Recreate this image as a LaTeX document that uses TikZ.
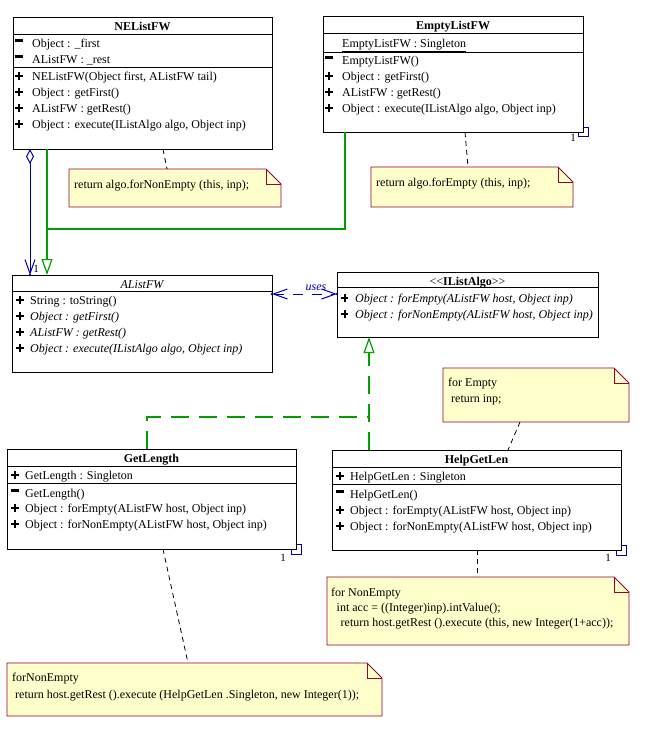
\documentclass[tikz,border=0pt]{standalone}
\usepackage{fontspec}
\setmainfont{Liberation Serif}
\usetikzlibrary{arrows.meta,calc}
\definecolor{umlblue}{RGB}{0,0,170}
\definecolor{umlgreen}{RGB}{0,160,0}
\definecolor{notered}{RGB}{153,0,51}
\definecolor{noteyellow}{RGB}{255,255,204}
\newcommand\rowfont{\fontsize{12}{14}\selectfont}
\newcommand\pmplus[2]{\draw[pm] (#1-3.8,#2-4) -- (#1+3.8,#2-4) (#1,#2-7.8) -- (#1,#2-0.2);}
\newcommand\pmminus[2]{\draw[pm, line width=2.6pt] (#1-3.8,#2-6.5) -- (#1+3.8,#2-6.5);}
\newcommand\notebox[5]{%
  \node[draw=none, inner sep=0pt, outer sep=0pt, anchor=north west, minimum width=#4pt, minimum height=#5pt] (#1) at (#2,#3) {};
  \draw[notepath] (#1.north west) -- ($(#1.north east)+(-15,0)$) -- ($(#1.north east)+(0,15)$) -- (#1.south east) -- (#1.south west) -- cycle;
  \draw[notered, line width=0.9pt] ($(#1.north east)+(-15,0)$) -- ($(#1.north east)+(-15,15)$) -- ($(#1.north east)+(0,15)$);}
\tikzset{vbarb/.tip={Straight Barb[length=14pt, width=10pt]}}
\begin{document}
\begin{tikzpicture}[x=1pt,y=-1pt,
  cls/.style={draw=black, line width=0.9pt, fill=white, inner sep=0pt, outer sep=0pt, anchor=north west},
  row/.style={anchor=base west, inner sep=0pt, font=\rowfont},
  ttl/.style={anchor=base, inner sep=0pt, font=\rowfont\bfseries},
  div/.style={line width=0.9pt},
  pm/.style={line width=2pt},
  notepath/.style={draw=notered, fill=noteyellow, line width=0.9pt},
  anchorline/.style={dash pattern=on 5pt off 4pt, line width=0.8pt},
  gen/.style={draw=umlgreen, line width=1.2pt},
  real/.style={draw=umlgreen, line width=1.2pt, dash pattern=on 18pt off 10pt},
  assoc/.style={draw=umlblue, line width=1pt},
  usesline/.style={draw=umlblue, line width=1pt, dash pattern=on 10pt off 9pt},
  mult/.style={inner sep=0pt, anchor=base, font=\fontsize{11}{12}\selectfont},
  tri/.style={-{Triangle[open, length=16pt, width=11pt, fill=white]}}
]
\useasboundingbox (0,0) rectangle (653,732);

% self-association squares (behind the boxes)
\draw[assoc] (578,127) rectangle (588,136);
\draw[assoc] (291,544) rectangle (301,554);
\draw[assoc] (616,545) rectangle (626,555);

% ---------- NEListFW ----------
\node[cls, minimum width=259pt, minimum height=132pt] (ne) at (13,17) {};
\draw[div] (13,34) -- (272,34);
\draw[div] (13,67) -- (272,67);
\node[ttl] (ne-t) at (142.5,30) {NEListFW};
\pmminus{19}{47}\node[row] (ne-a1) at (32,47) {Object : \_first};
\pmminus{19}{63}\node[row] (ne-a2) at (32,63) {AListFW : \_rest};
\pmplus{19}{80}\node[row] (ne-o1) at (32,80) {NEListFW(Object first, AListFW tail)};
\pmplus{19}{96}\node[row] (ne-o2) at (32,96) {Object : getFirst()};
\pmplus{19}{112}\node[row] (ne-o3) at (32,112) {AListFW : getRest()};
\pmplus{19}{128}\node[row] (ne-o4) at (32,128) {Object : execute(IListAlgo algo, Object inp)};

% ---------- EmptyListFW ----------
\node[cls, minimum width=260pt, minimum height=116pt] (el) at (323,16) {};
\draw[div] (323,33) -- (583,33);
\draw[div] (323,52) -- (583,52);
\node[ttl] (el-t) at (453,29) {EmptyListFW};
\node[row] (el-a1) at (342,47) {\underline{EmptyListFW : Singleton}};
\pmminus{329}{64}\node[row] (el-o1) at (342,64) {EmptyListFW()};
\pmplus{329}{80}\node[row] (el-o2) at (342,80) {Object : getFirst()};
\pmplus{329}{96}\node[row] (el-o3) at (342,96) {AListFW : getRest()};
\pmplus{329}{112}\node[row] (el-o4) at (342,112) {Object : execute(IListAlgo algo, Object inp)};

% ---------- AListFW ----------
\node[cls, minimum width=260pt, minimum height=97pt] (al) at (12,275) {};
\draw[div] (12,291) -- (272,291);
\node[anchor=base, inner sep=0pt, font=\rowfont\itshape] (al-t) at (142,288) {AListFW};
\pmplus{20}{304}\node[row] (al-o1) at (30,304) {String : toString()};
\pmplus{20}{320}\node[row] (al-o2) at (30,320) {\itshape Object : getFirst()};
\pmplus{20}{336}\node[row] (al-o3) at (30,336) {\itshape AListFW : getRest()};
\pmplus{20}{352}\node[row] (al-o4) at (30,352) {\itshape Object : execute(IListAlgo algo, Object inp)};

% ---------- IListAlgo ----------
\node[cls, minimum width=261pt, minimum height=65pt] (ia) at (337,272) {};
\draw[div] (337,287) -- (598,287);
\node[anchor=base, inner sep=0pt, font=\rowfont] (ia-t) at (467.5,285) {<{}<\textbf{IListAlgo}>{}>};
\pmplus{344.5}{302}\node[row] (ia-o1) at (355,302) {\itshape Object : forEmpty(AListFW host, Object inp)};
\pmplus{344.5}{318}\node[row] (ia-o2) at (355,318) {\itshape Object : forNonEmpty(AListFW host, Object inp)};

% ---------- GetLength ----------
\node[cls, minimum width=289pt, minimum height=100pt] (gl) at (7,449) {};
\draw[div] (7,466) -- (296,466);
\draw[div] (7,483) -- (296,483);
\node[ttl] (gl-t) at (151.5,462) {GetLength};
\pmplus{15}{479}\node[row] (gl-a1) at (25,479) {\underline{GetLength : Singleton}};
\pmminus{15}{497}\node[row] (gl-o1) at (25,497) {GetLength()};
\pmplus{15}{512}\node[row] (gl-o2) at (25,512) {Object : forEmpty(AListFW host, Object inp)};
\pmplus{15}{528}\node[row] (gl-o3) at (25,528) {Object : forNonEmpty(AListFW host, Object inp)};

% ---------- HelpGetLen ----------
\node[cls, minimum width=289pt, minimum height=100pt] (hg) at (332,450) {};
\draw[div] (332,467) -- (621,467);
\draw[div] (332,484) -- (621,484);
\node[ttl] (hg-t) at (476.5,463) {HelpGetLen};
\pmplus{340}{480}\node[row] (hg-a1) at (350,480) {\underline{HelpGetLen : Singleton}};
\pmminus{340}{498}\node[row] (hg-o1) at (350,498) {HelpGetLen()};
\pmplus{340}{514}\node[row] (hg-o2) at (350,514) {Object : forEmpty(AListFW host, Object inp)};
\pmplus{340}{530}\node[row] (hg-o3) at (350,530) {Object : forNonEmpty(AListFW host, Object inp)};

% multiplicities of the self associations
\node[mult] (el-m) at (573,141) {1};
\node[mult] (gl-m) at (283,561) {1};
\node[mult] (hg-m) at (608,561) {1};

% ---------- notes ----------
\notebox{n1}{69}{169}{212}{38}
\node[row] (n1-l1) at (74,188) {return algo.forNonEmpty (this, inp);};
\notebox{n2}{371}{167}{202}{40}
\node[row] (n2-l1) at (376,186) {return algo.forEmpty (this, inp);};
\notebox{n3}{443}{368}{186}{54}
\node[row] (n3-l1) at (448,386) {for Empty};
\node[row] (n3-l2) at (451,402) {return inp;};
\notebox{n4}{327}{577}{302}{68}
\node[row] (n4-l1) at (331,596) {for NonEmpty};
\node[row] (n4-l2) at (336.5,611) {int acc = ((Integer)inp).intValue();};
\node[row] (n4-l3) at (340.5,626) {return host.getRest ().execute (this, new Integer(1+acc));};
\notebox{n5}{7}{663}{375}{53}
\node[row] (n5-l1) at (12,681) {forNonEmpty};
\node[row] (n5-l2) at (15,698) {return host.getRest ().execute (HelpGetLen .Singleton, new Integer(1));};

% ---------- connectors ----------
% aggregation NEListFW -> AListFW
\draw[assoc, {Diamond[open, length=15pt, width=8pt]}-vbarb]
  ($(ne.south west)+(17,0)$) -- ($(al.north west)+(18,0)$);
\fill[umlblue] ($(al.north west)+(18,0)$) circle (1.3);
\node[mult] (agg-m) at (36,272) {1};

% generalisations to AListFW
\coordinate (genjoin) at ($(al.north west)+(35,-46)$);
\draw[gen, tri] ($(ne.south west)+(34,0)$) -- ($(al.north west)+(35,0)$);
\draw[gen] ($(el.south west)+(22,0)$) |- (genjoin);

% uses dependency
\draw[usesline, vbarb-vbarb] ($(al.north east)+(0,19)$) -- ($(ia.north west)+(0,22)$);
\fill[umlblue] ($(al.north east)+(0,19)$) circle (1.3);
\fill[umlblue] ($(ia.north west)+(0,22)$) circle (1.3);
\node[anchor=base, inner sep=0pt, font=\rowfont\itshape, text=umlblue] (uses-l) at (316,290) {uses};

% realisations of IListAlgo
\coordinate (realjoin) at ($(hg.north west)+(37,-33)$);
\draw[real, tri] ($(hg.north west)+(37,0)$) -- ($(ia.south west)+(32,0)$);
\draw[real] ($(gl.north west)+(140,0)$) |- (realjoin);

% note anchors
\draw[anchorline] ($(ne.south west)+(150,0)$) -- ($(n1.north west)+(98,0)$);
\draw[anchorline] ($(el.south west)+(142,0)$) -- ($(n2.north west)+(97,0)$);
\draw[anchorline] ($(n3.south west)+(77,0)$) -- ($(hg.north west)+(176,0)$);
\draw[anchorline] ($(hg.south west)+(145,0)$) -- ($(n4.north west)+(150,0)$);
\draw[anchorline] ($(gl.south west)+(156,0)$) -- ($(n5.north west)+(181,0)$);
\end{tikzpicture}
\end{document}
